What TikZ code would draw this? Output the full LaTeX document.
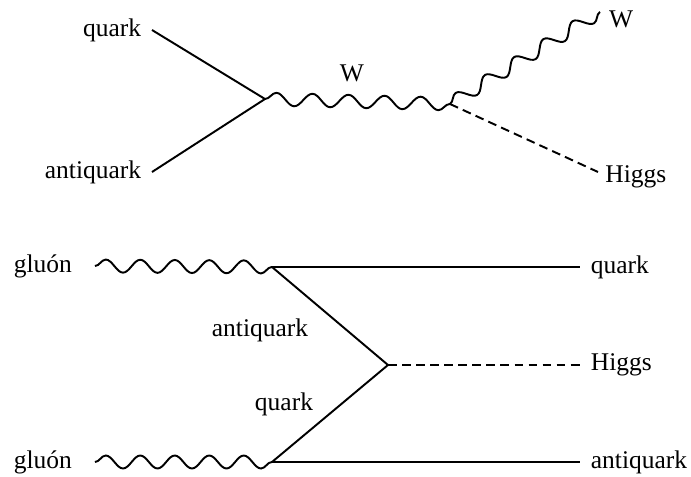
\documentclass[tikz,border=0pt]{standalone}
\usepackage{fontspec}
\setmainfont{Liberation Serif}
\usepackage{tikz}
\usetikzlibrary{positioning,decorations.pathmorphing}

\begin{document}
\begin{tikzpicture}[
    x=0.02cm, y=-0.02cm,
    lbl/.style={font=\fontsize{14.5}{17}\selectfont, inner sep=1pt},
    fermion/.style={line width=1.1pt},
    boson/.style={decorate, decoration={snake, segment length=#1, amplitude=0.13cm}, line width=1.1pt},
    scalar/.style={dash pattern=on 5pt off 3pt, line width=1.1pt}
]
\useasboundingbox (0,0) rectangle (691,477);

% quark + antiquark -> W -> W + Higgs
\coordinate (qin) at (152,30);
\coordinate (aqin) at (152,172);
\coordinate (vw) at (265,99);
\coordinate (vh) at (450,104);
\coordinate (wout) at (600,12);
\coordinate (hout) at (598,172);

\node[lbl, left=5pt of qin] (qinlbl) {quark};
\node[lbl, left=5pt of aqin] (aqinlbl) {antiquark};
\node[lbl] (wlbl) at (352,73) {W};
\node[lbl, right=4pt of wout, yshift=-4pt] (woutlbl) {W};
\node[lbl, right=3pt of hout, yshift=-3pt] (houtlbl) {Higgs};

\draw[fermion] (qin) -- (vw);
\draw[fermion] (aqin) -- (vw);
\draw[boson=0.7215cm] (vw) -- (vh);
\draw[boson=0.686cm] (vh) -- (wout);
\draw[scalar] (vh) -- (hout);

% gluon fusion
\coordinate (g1) at (95,266);
\coordinate (g2) at (95,462);
\coordinate (va) at (272,267);
\coordinate (vb) at (272,462);
\coordinate (vc) at (388,365);
\coordinate (qout) at (580,267);
\coordinate (hout2) at (580,365);
\coordinate (aqout) at (580,462);

\node[lbl, left=12pt of g1] (g1lbl) {gluón};
\node[lbl, left=12pt of g2] (g2lbl) {gluón};
\node[lbl, right=5pt of qout] (qoutlbl) {quark};
\node[lbl, right=5pt of hout2] (hout2lbl) {Higgs};
\node[lbl, right=5pt of aqout] (aqoutlbl) {antiquark};
\node[lbl] (aqmid) at (260,330) {antiquark};
\node[lbl] (qmid) at (284,404) {quark};

\draw[boson=0.690cm] (g1) -- (va);
\draw[boson=0.690cm] (g2) -- (vb);
\draw[fermion] (va) -- (qout);
\draw[fermion] (vb) -- (aqout);
\draw[fermion] (va) -- (vc) -- (vb);
\draw[scalar] (vc) -- (hout2);
\end{tikzpicture}
\end{document}
